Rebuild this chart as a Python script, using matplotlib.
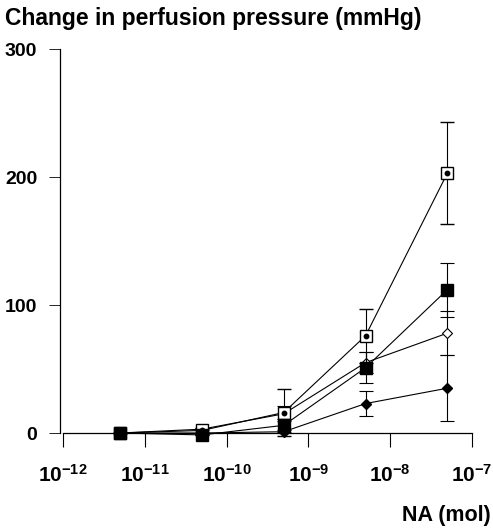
import matplotlib
matplotlib.use("Agg")
import matplotlib.pyplot as plt
from matplotlib.ticker import FixedLocator, FixedFormatter

plt.rcParams['font.family'] = ['Liberation Sans', 'DejaVu Sans']
plt.rcParams['mathtext.fontset'] = 'custom'
plt.rcParams['mathtext.rm'] = 'Liberation Sans:bold'
plt.rcParams['mathtext.it'] = 'Liberation Sans:bold'
plt.rcParams['mathtext.bf'] = 'Liberation Sans:bold'

# Data
doses = [5e-12, 5e-11, 5e-10, 5e-9, 5e-8]
sq_dot = [0, 2, 16, 76, 203]
sq_dot_err = [0, 2, 18, 21, 40]
sq_fill = [0, -1.5, 6, 51, 112]
sq_fill_err = [0, 0, 5, 12, 21]
dia_open = [0, 3, 15, 55, 78]
dia_open_err = [0, 1, 6, 8, 17]
dia_fill = [0, 0, 1, 23, 35]
dia_fill_err = [0, 0, 1, 10, 26]

xticks = [1e-12, 1e-11, 1e-10, 1e-9, 1e-8, 1e-7]
xticklabels = [r'$10^{-12}$', r'$10^{-11}$', r'$10^{-10}$', r'$10^{-9}$', r'$10^{-8}$', r'$10^{-7}$']
yticks = [0, 100, 200, 300]
yticklabels = ['0', '100', '200', '300']

W, H = 493, 531
fig = plt.figure(figsize=(W / 100, H / 100), dpi=100)
ax = fig.add_axes([63 / W, 98 / H, 409 / W, 384 / H])
ax.set_xscale('log')
ax.set_xlim(1e-12, 1e-7)
ax.set_ylim(0, 300)

lw = 0.8
common = dict(color='black', lw=lw, elinewidth=0.8, capsize=5, capthick=0.8, clip_on=False)

ax.errorbar(doses, dia_fill, yerr=dia_fill_err, marker='D', ms=5.5, mfc='black', mec='black', zorder=3, **common)
ax.errorbar(doses, dia_open, yerr=dia_open_err, marker='D', ms=5.5, mfc='white', mec='black', mew=0.8, zorder=3.2, **common)
ax.errorbar(doses, sq_dot, yerr=sq_dot_err, marker='s', ms=8.5, mfc='white', mec='black', mew=1.0, zorder=3.4, **common)
ax.plot(doses, sq_dot, ls='none', marker='o', ms=3.2, color='black', clip_on=False, zorder=3.5)
ax.errorbar(doses, sq_fill, yerr=sq_fill_err, marker='s', ms=8.5, mfc='black', mec='black', zorder=3.6, **common)

for s in ['top', 'right']:
    ax.spines[s].set_visible(False)
ax.spines['left'].set_linewidth(0.9)
ax.spines['bottom'].set_linewidth(0.9)
ax.spines['left'].set_position(('outward', 2))

ax.xaxis.set_major_locator(FixedLocator(xticks))
ax.xaxis.set_major_formatter(FixedFormatter(xticklabels))
ax.xaxis.set_minor_locator(FixedLocator([]))
ax.set_yticks(yticks)
ax.set_yticklabels(yticklabels)

ax.tick_params(axis='x', direction='out', length=10, width=0.8, pad=12, labelsize=15)
ax.tick_params(axis='y', direction='out', length=8, width=0.6, pad=8.5, labelsize=14)
for lab in ax.get_yticklabels():
    lab.set_fontweight('bold')

fig.text(5 / W, 1 - 19 / H, 'Change in perfusion pressure (mmHg)', fontsize=16.5,
         fontweight='bold', ha='left', va='center')
fig.text(491 / W, 1 - 516 / H, 'NA (mol)', fontsize=15.5, fontweight='bold', ha='right', va='center')

fig.savefig('out.png', dpi=100)
